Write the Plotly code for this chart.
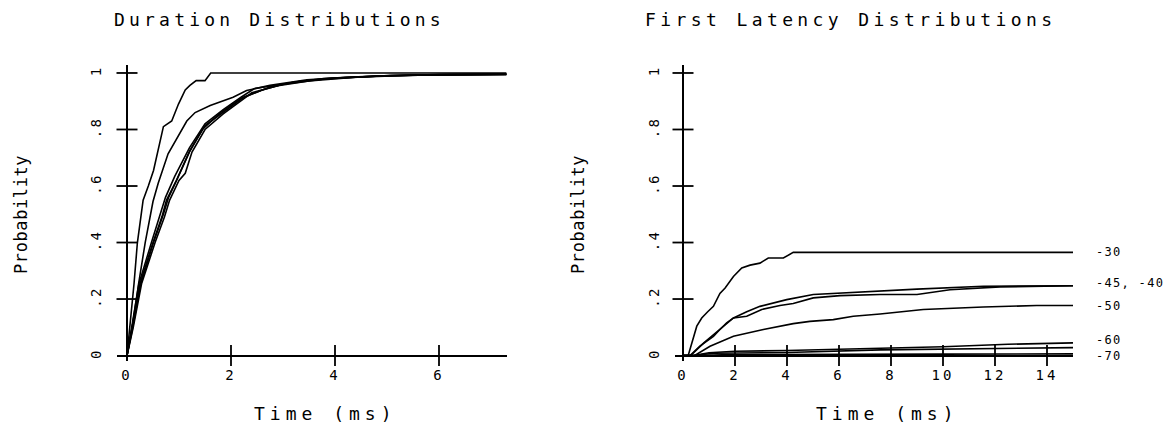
import plotly.graph_objects as go

# ---------------- data ----------------
# Duration distributions (cumulative probability vs time in ms)
dur_a_t = [0, 0.07, 0.135, 0.2, 0.31, 0.41, 0.51, 0.7, 0.86, 0.99, 1.12, 1.21, 1.33, 1.5, 1.61, 7.3]
dur_a_p = [0, 0.12, 0.254, 0.4, 0.55, 0.6, 0.655, 0.81, 0.83, 0.89, 0.94, 0.956, 0.973, 0.973, 1.0, 1.0]

dur_b_t = [0, 0.1, 0.22, 0.35, 0.5, 0.6, 0.79, 1.02, 1.15, 1.31, 1.6, 2.04, 2.3, 2.75, 3.46, 4.2, 5.06, 6.2, 7.3]
dur_b_p = [0, 0.1, 0.25, 0.4, 0.545, 0.61, 0.714, 0.785, 0.83, 0.86, 0.885, 0.914, 0.938, 0.956, 0.976, 0.985, 0.991, 0.994, 0.996]

dur_c_t = [0, 0.1, 0.25, 0.5, 0.67, 0.76, 0.95, 1.21, 1.5, 1.85, 2.24, 2.75, 3.2, 3.78, 4.4, 5.06, 6.0, 7.3]
dur_c_p = [0, 0.1, 0.254, 0.4, 0.49, 0.55, 0.62, 0.726, 0.814, 0.861, 0.914, 0.95, 0.967, 0.98, 0.986, 0.991, 0.994, 0.995]

dur_d_t = [0, 0.12, 0.28, 0.54, 0.72, 0.82, 1.0, 1.12, 1.25, 1.5, 1.85, 2.4, 2.9, 3.5, 4.4, 5.5, 7.3]
dur_d_p = [0, 0.1, 0.254, 0.4, 0.49, 0.55, 0.62, 0.645, 0.72, 0.8, 0.855, 0.93, 0.955, 0.972, 0.985, 0.992, 0.995]

dur_e_t = [0, 0.09, 0.23, 0.47, 0.64, 0.74, 0.92, 1.2, 1.5, 1.85, 2.2, 2.45, 2.8, 3.3, 4.0, 5.0, 6.2, 7.3]
dur_e_p = [0, 0.1, 0.254, 0.4, 0.5, 0.56, 0.635, 0.735, 0.82, 0.87, 0.915, 0.945, 0.955, 0.97, 0.982, 0.99, 0.994, 0.996]

dur_f_t = [0, 0.1, 0.26, 0.5, 0.7, 0.8, 0.98, 1.2, 1.45, 1.8, 2.2, 2.6, 3.0, 3.8, 4.8, 6.0, 7.3]
dur_f_p = [0, 0.09, 0.25, 0.395, 0.5, 0.56, 0.63, 0.72, 0.8, 0.86, 0.91, 0.94, 0.96, 0.979, 0.989, 0.994, 0.995]

# First latency distributions, one curve per holding potential (mV)
lat_30_t = [0, 0.2, 0.53, 0.72, 0.95, 1.17, 1.42, 1.62, 1.94, 2.26, 2.58, 2.96, 3.28, 3.86, 4.24, 15]
lat_30_p = [0, 0, 0.104, 0.133, 0.155, 0.174, 0.22, 0.239, 0.28, 0.31, 0.32, 0.327, 0.345, 0.345, 0.365, 0.365]

lat_40_t = [0, 0.27, 0.65, 0.9, 1.17, 1.42, 1.68, 1.94, 2.45, 2.96, 3.5, 3.99, 5.01, 6.04, 7.58, 9.0, 11.55, 13.0, 15]
lat_40_p = [0, 0, 0.033, 0.05, 0.068, 0.092, 0.116, 0.133, 0.155, 0.174, 0.187, 0.198, 0.216, 0.221, 0.23, 0.235, 0.245, 0.246, 0.247]

lat_45_t = [0, 0.3, 0.8, 1.2, 1.5, 1.94, 2.45, 3.03, 3.73, 4.24, 5.01, 6.04, 7.58, 9.0, 10.27, 12.2, 15]
lat_45_p = [0, 0, 0.045, 0.075, 0.1, 0.133, 0.139, 0.163, 0.177, 0.184, 0.204, 0.212, 0.216, 0.216, 0.233, 0.243, 0.247]

lat_50_t = [0, 0.45, 1.04, 1.94, 3.09, 4.24, 4.88, 5.78, 6.55, 7.58, 9.24, 11.55, 13.6, 15]
lat_50_p = [0, 0, 0.033, 0.068, 0.092, 0.113, 0.121, 0.127, 0.139, 0.147, 0.163, 0.172, 0.177, 0.177]

lat_60_t = [0, 0.4, 1.0, 2.0, 4.0, 7.6, 10.0, 12.5, 15]
lat_60_p = [0, 0, 0.01, 0.015, 0.018, 0.027, 0.031, 0.04, 0.045]

lat_65_t = [0, 0.4, 1.2, 4.0, 7.6, 10.0, 15]
lat_65_p = [0, 0, 0.008, 0.011, 0.02, 0.022, 0.028]

lat_70_t = [0, 0.5, 1.5, 4.0, 10, 15]
lat_70_p = [0, 0, 0.003, 0.003, 0.005, 0.006]

# curve labels on the right-hand panel: text and the probability level they sit at
lat_labels = ["-30", "-45, -40", "-50", "-60", "-70"]
lat_label_p = [0.365, 0.257, 0.175, 0.055, 0.0]

# axis ticks
prob_ticks = [0, 0.2, 0.4, 0.6, 0.8, 1.0]
prob_tick_text = ["0", ".2", ".4", ".6", ".8", "1"]
dur_ticks = [0, 2, 4, 6]
lat_ticks = [0, 2, 4, 6, 8, 10, 12, 14]

# ---------------- styling ----------------
W, H = 1170, 430
FONT = "DejaVu Sans Mono"
INK = "black"


def spaced(text, px):
    return f'<span style="letter-spacing:{px}px">{text}</span>'


def px_x(p):
    return p / W


def px_y(p):
    return 1 - p / H


fig = go.Figure()

dur_curves = [(dur_a_t, dur_a_p), (dur_b_t, dur_b_p), (dur_c_t, dur_c_p),
              (dur_d_t, dur_d_p), (dur_e_t, dur_e_p), (dur_f_t, dur_f_p)]
for t, p in dur_curves:
    fig.add_trace(go.Scatter(x=t, y=p, mode="lines", xaxis="x", yaxis="y",
                             line=dict(color=INK, width=1.6), hoverinfo="skip"))

lat_curves = [(lat_30_t, lat_30_p), (lat_40_t, lat_40_p), (lat_45_t, lat_45_p),
              (lat_50_t, lat_50_p), (lat_60_t, lat_60_p), (lat_65_t, lat_65_p),
              (lat_70_t, lat_70_p)]
for t, p in lat_curves:
    fig.add_trace(go.Scatter(x=t, y=p, mode="lines", xaxis="x2", yaxis="y2",
                             line=dict(color=INK, width=1.6), hoverinfo="skip"))

# cross-shaped tick marks on both axes of each panel
for xa, ya, xt in (("x", "y", dur_ticks), ("x2", "y2", lat_ticks)):
    yt = [v for v in prob_ticks if v != 0]
    fig.add_trace(go.Scatter(x=[0] * len(yt), y=yt, mode="markers", xaxis=xa, yaxis=ya,
                             marker=dict(symbol="line-ew", size=15,
                                         line=dict(color=INK, width=1.8)),
                             cliponaxis=False, hoverinfo="skip"))
    xs = [v for v in xt if v != 0]
    fig.add_trace(go.Scatter(x=xs, y=[0] * len(xs), mode="markers", xaxis=xa, yaxis=ya,
                             marker=dict(symbol="line-ns", size=15,
                                         line=dict(color=INK, width=1.8)),
                             cliponaxis=False, hoverinfo="skip"))

# panel geometry
y_dom = [px_y(361.2), px_y(64.5)]
common_y = dict(range=[-0.02, 1.03], showgrid=False, showline=False, zeroline=True,
                zerolinecolor=INK, zerolinewidth=2, tickvals=prob_ticks,
                ticktext=[spaced(s, 2.5) for s in prob_tick_text], tickangle=-90,
                ticks="", ticklabelstandoff=12,
                tickfont=dict(family=FONT, size=14, color=INK), domain=y_dom)
common_x = dict(showgrid=False, showline=False, zeroline=True, zerolinecolor=INK,
                zerolinewidth=2, ticks="", ticklabelstandoff=4,
                tickfont=dict(family=FONT, size=14, color=INK))

fig.update_layout(
    width=W, height=H,
    margin=dict(l=0, r=0, t=0, b=0),
    paper_bgcolor="white", plot_bgcolor="white",
    showlegend=False,
    xaxis=dict(common_x, range=[-0.2, 7.3], domain=[px_x(116.6), px_x(506.6)],
               tickvals=dur_ticks, ticktext=[spaced(str(v), 3) for v in dur_ticks]),
    yaxis=dict(common_y, anchor="x"),
    xaxis2=dict(common_x, range=[-0.3, 15.0], domain=[px_x(675.2), px_x(1073)],
                tickvals=lat_ticks, ticktext=[spaced(str(v), 3) for v in lat_ticks],
                anchor="y2"),
    yaxis2=dict(common_y, anchor="x2"),
)

ann = []
# panel titles
ann.append(dict(text=spaced("Duration Distributions", 4.2), x=px_x(279), y=px_y(20)))
ann.append(dict(text=spaced("First Latency Distributions", 4.4), x=px_x(850), y=px_y(20)))
# axis titles
for cx in (325, 887):
    ann.append(dict(text=spaced("Time (ms)", 5), x=px_x(cx), y=px_y(413)))
for cx in (21, 578):
    ann.append(dict(text=spaced("Probability", 0.6), x=px_x(cx), y=px_y(215),
                    textangle=-90, font=dict(family=FONT, size=17, color=INK)))

annotations = []
for a in ann:
    base = dict(xref="paper", yref="paper", showarrow=False, xanchor="center",
                yanchor="middle", font=dict(family=FONT, size=18, color=INK))
    base.update(a)
    annotations.append(base)

# curve labels to the right of the latency panel
for text, p in zip(lat_labels, lat_label_p):
    annotations.append(dict(text=spaced(text, 1.3), x=px_x(1094), y=p, xref="paper", yref="y2",
                            showarrow=False, xanchor="left", yanchor="middle",
                            font=dict(family=FONT, size=12, color=INK)))

fig.update_layout(annotations=annotations)

fig.write_html("out.html")
